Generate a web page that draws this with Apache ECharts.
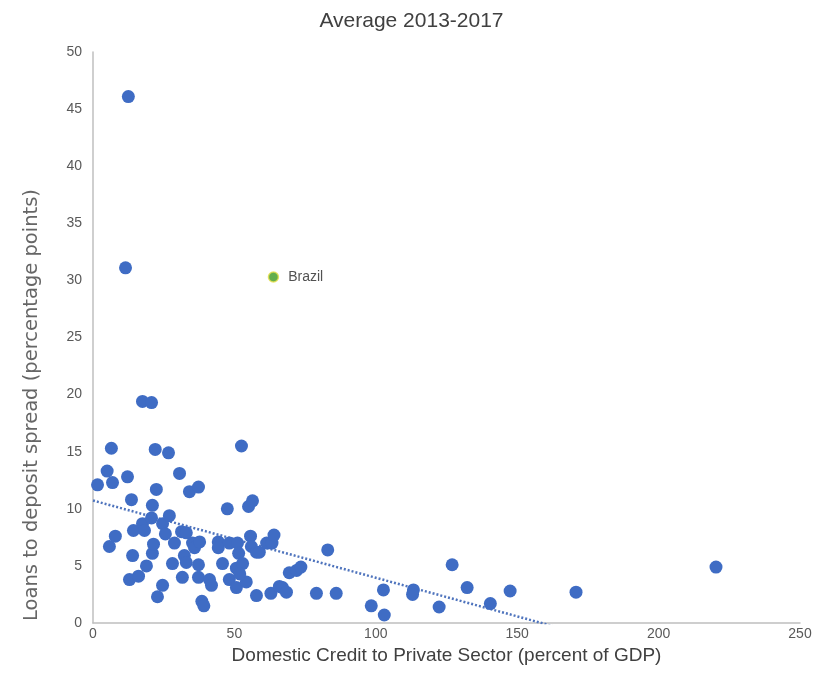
<!DOCTYPE html>
<html>
<head>
<meta charset="utf-8">
<script src="https://cdn.jsdelivr.net/npm/echarts@6/dist/echarts.min.js"></script>
<style>
  html, body { margin: 0; padding: 0; background: #ffffff; }
  #chart { width: 823px; height: 689px; }
</style>
</head>
<body>
<div id="chart"></div>
<script>
// Domestic credit to private sector (% of GDP) vs. lending-deposit spread (pp), 2013-2017 averages
const creditToPrivate = [
  12.5, 11.5, 1.6, 5.0, 6.5, 6.9, 5.8, 7.9, 12.2, 13.6,
  12.9, 14.0, 14.3, 16.1, 17.5, 18.2, 18.9, 17.5, 20.7, 21.0,
  20.7, 21.0, 21.4, 22.0, 22.4, 22.8, 24.6, 24.6, 25.6, 26.7,
  27.0, 28.1, 28.8, 30.6, 31.3, 31.6, 32.3, 33.0, 33.0, 34.1,
  35.2, 35.9, 37.3, 37.3, 37.3, 38.5, 39.2, 41.2, 41.9, 37.7,
  44.3, 44.3, 45.8, 47.5, 48.2, 48.2, 50.7, 50.7, 51.1, 51.5,
  52.5, 52.9, 54.2, 55.0, 56.4, 55.7, 56.0, 57.8, 58.8, 57.8,
  61.4, 63.3, 64.0, 62.9, 65.9, 67.0, 68.4, 69.4, 72.0, 73.5,
  83.0, 79.0, 86.0, 98.4, 102.7, 103.0, 113.3, 113.0, 122.4, 127.0,
  132.3, 140.5, 147.5, 170.8, 220.3, 51.9
];
const loanDepositSpread = [
  46.1, 31.1, 12.1, 13.3, 15.3, 12.3, 6.7, 7.6, 12.8, 10.8,
  3.8, 5.9, 8.1, 4.1, 8.7, 8.1, 5.0, 19.4, 19.3, 10.3,
  9.2, 6.1, 6.9, 15.2, 11.7, 2.3, 3.3, 8.7, 7.8, 14.9,
  9.4, 5.2, 7.0, 13.1, 8.0, 4.0, 5.9, 7.9, 5.3, 11.5,
  7.0, 6.6, 11.9, 5.1, 4.0, 1.9, 1.5, 3.8, 3.3, 7.1,
  7.1, 6.6, 5.2, 10.0, 7.0, 3.8, 4.8, 3.1, 7.0, 6.1,
  15.5, 5.2, 3.6, 10.2, 10.7, 7.6, 6.7, 6.2, 6.2, 2.4,
  7.0, 7.0, 7.7, 2.6, 3.2, 3.1, 2.7, 4.4, 4.6, 4.9,
  6.4, 2.6, 2.6, 1.5, 2.9, 0.7, 2.9, 2.5, 1.4, 5.1,
  3.1, 1.7, 2.8, 2.7, 4.9, 4.3
];
const highlightName = ['Brazil'];
const highlightCredit = [63.8];
const highlightSpread = [30.3];

const xTicks = { min: 0, max: 250, step: 50 };
const yTicks = { min: 0, max: 50, step: 5 };

// Ordinary least-squares fit over the country sample
function linearFit(xs, ys) {
  const n = xs.length;
  let sx = 0, sy = 0, sxx = 0, sxy = 0;
  for (let i = 0; i < n; i++) {
    sx += xs[i]; sy += ys[i]; sxx += xs[i] * xs[i]; sxy += xs[i] * ys[i];
  }
  const slope = (n * sxy - sx * sy) / (n * sxx - sx * sx);
  const intercept = (sy - slope * sx) / n;
  return { slope, intercept };
}
const fit = linearFit(creditToPrivate, loanDepositSpread);
const xLo = 0;
const xHi = Math.max(...creditToPrivate);
const trendPoints = [
  [xLo, fit.intercept + fit.slope * xLo],
  [xHi, fit.intercept + fit.slope * xHi]
];

const points = creditToPrivate.map((x, i) => [x, loanDepositSpread[i]]);
const highlighted = highlightName.map((n, i) => ({ name: n, value: [highlightCredit[i], highlightSpread[i]] }));

const narrow = '"Liberation Sans Narrow", "Liberation Sans", Arial, sans-serif';
const chart = echarts.init(document.getElementById('chart'), null, { renderer: 'canvas' });

chart.setOption({
  backgroundColor: '#ffffff',
  animation: false,
  title: {
    text: 'Average 2013-2017',
    left: 'center',
    top: 6,
    textStyle: { fontFamily: narrow, fontSize: 21, fontWeight: 'normal', color: '#404040' }
  },
  grid: { left: 93, right: 23, top: 52, bottom: 66, containLabel: false },
  xAxis: {
    type: 'value',
    min: xTicks.min, max: xTicks.max, interval: xTicks.step,
    name: 'Domestic Credit to Private Sector (percent of GDP)',
    nameLocation: 'middle',
    nameGap: 10,
    nameTextStyle: { fontFamily: narrow, fontSize: 19, color: '#404040', verticalAlign: 'top' },
    axisLine: { show: true, lineStyle: { color: '#bfbfbf', width: 1.5 } },
    axisTick: { show: false },
    splitLine: { show: false },
    axisLabel: { fontFamily: narrow, fontSize: 14, color: '#595959', margin: 4 }
  },
  yAxis: {
    type: 'value',
    min: yTicks.min, max: yTicks.max, interval: yTicks.step,
    axisLine: { show: true, lineStyle: { color: '#bfbfbf', width: 1.5 } },
    axisTick: { show: false },
    splitLine: { show: false },
    axisLabel: { fontFamily: narrow, fontSize: 14, color: '#595959', margin: 11 }
  },
  graphic: [{
    type: 'text',
    x: 32, y: 405,
    rotation: Math.PI / 2,
    style: {
      text: 'Loans to deposit spread (percentage points)',
      fontFamily: '"DejaVu Sans", Verdana, sans-serif',
      fontSize: 19.5,
      fill: '#666666',
      align: 'center',
      verticalAlign: 'middle'
    }
  }],
  series: [
    {
      type: 'line',
      data: trendPoints,
      symbol: 'none',
      clip: true,
      lineStyle: { color: '#4f74bd', width: 2.5, type: [2, 2] },
      z: 1
    },
    {
      type: 'scatter',
      data: points,
      symbol: 'circle',
      symbolSize: 13,
      itemStyle: { color: '#3f6cc4', opacity: 1 },
      z: 2
    },
    {
      type: 'scatter',
      data: highlighted,
      symbol: 'circle',
      symbolSize: 10,
      itemStyle: { color: '#3d9a1f', borderColor: '#e6e04a', borderWidth: 1.5 },
      label: {
        show: true,
        position: 'right',
        distance: 9,
        formatter: '{b}',
        fontFamily: narrow,
        fontSize: 14,
        color: '#262626'
      },
      z: 3
    }
  ]
});
</script>
</body>
</html>
